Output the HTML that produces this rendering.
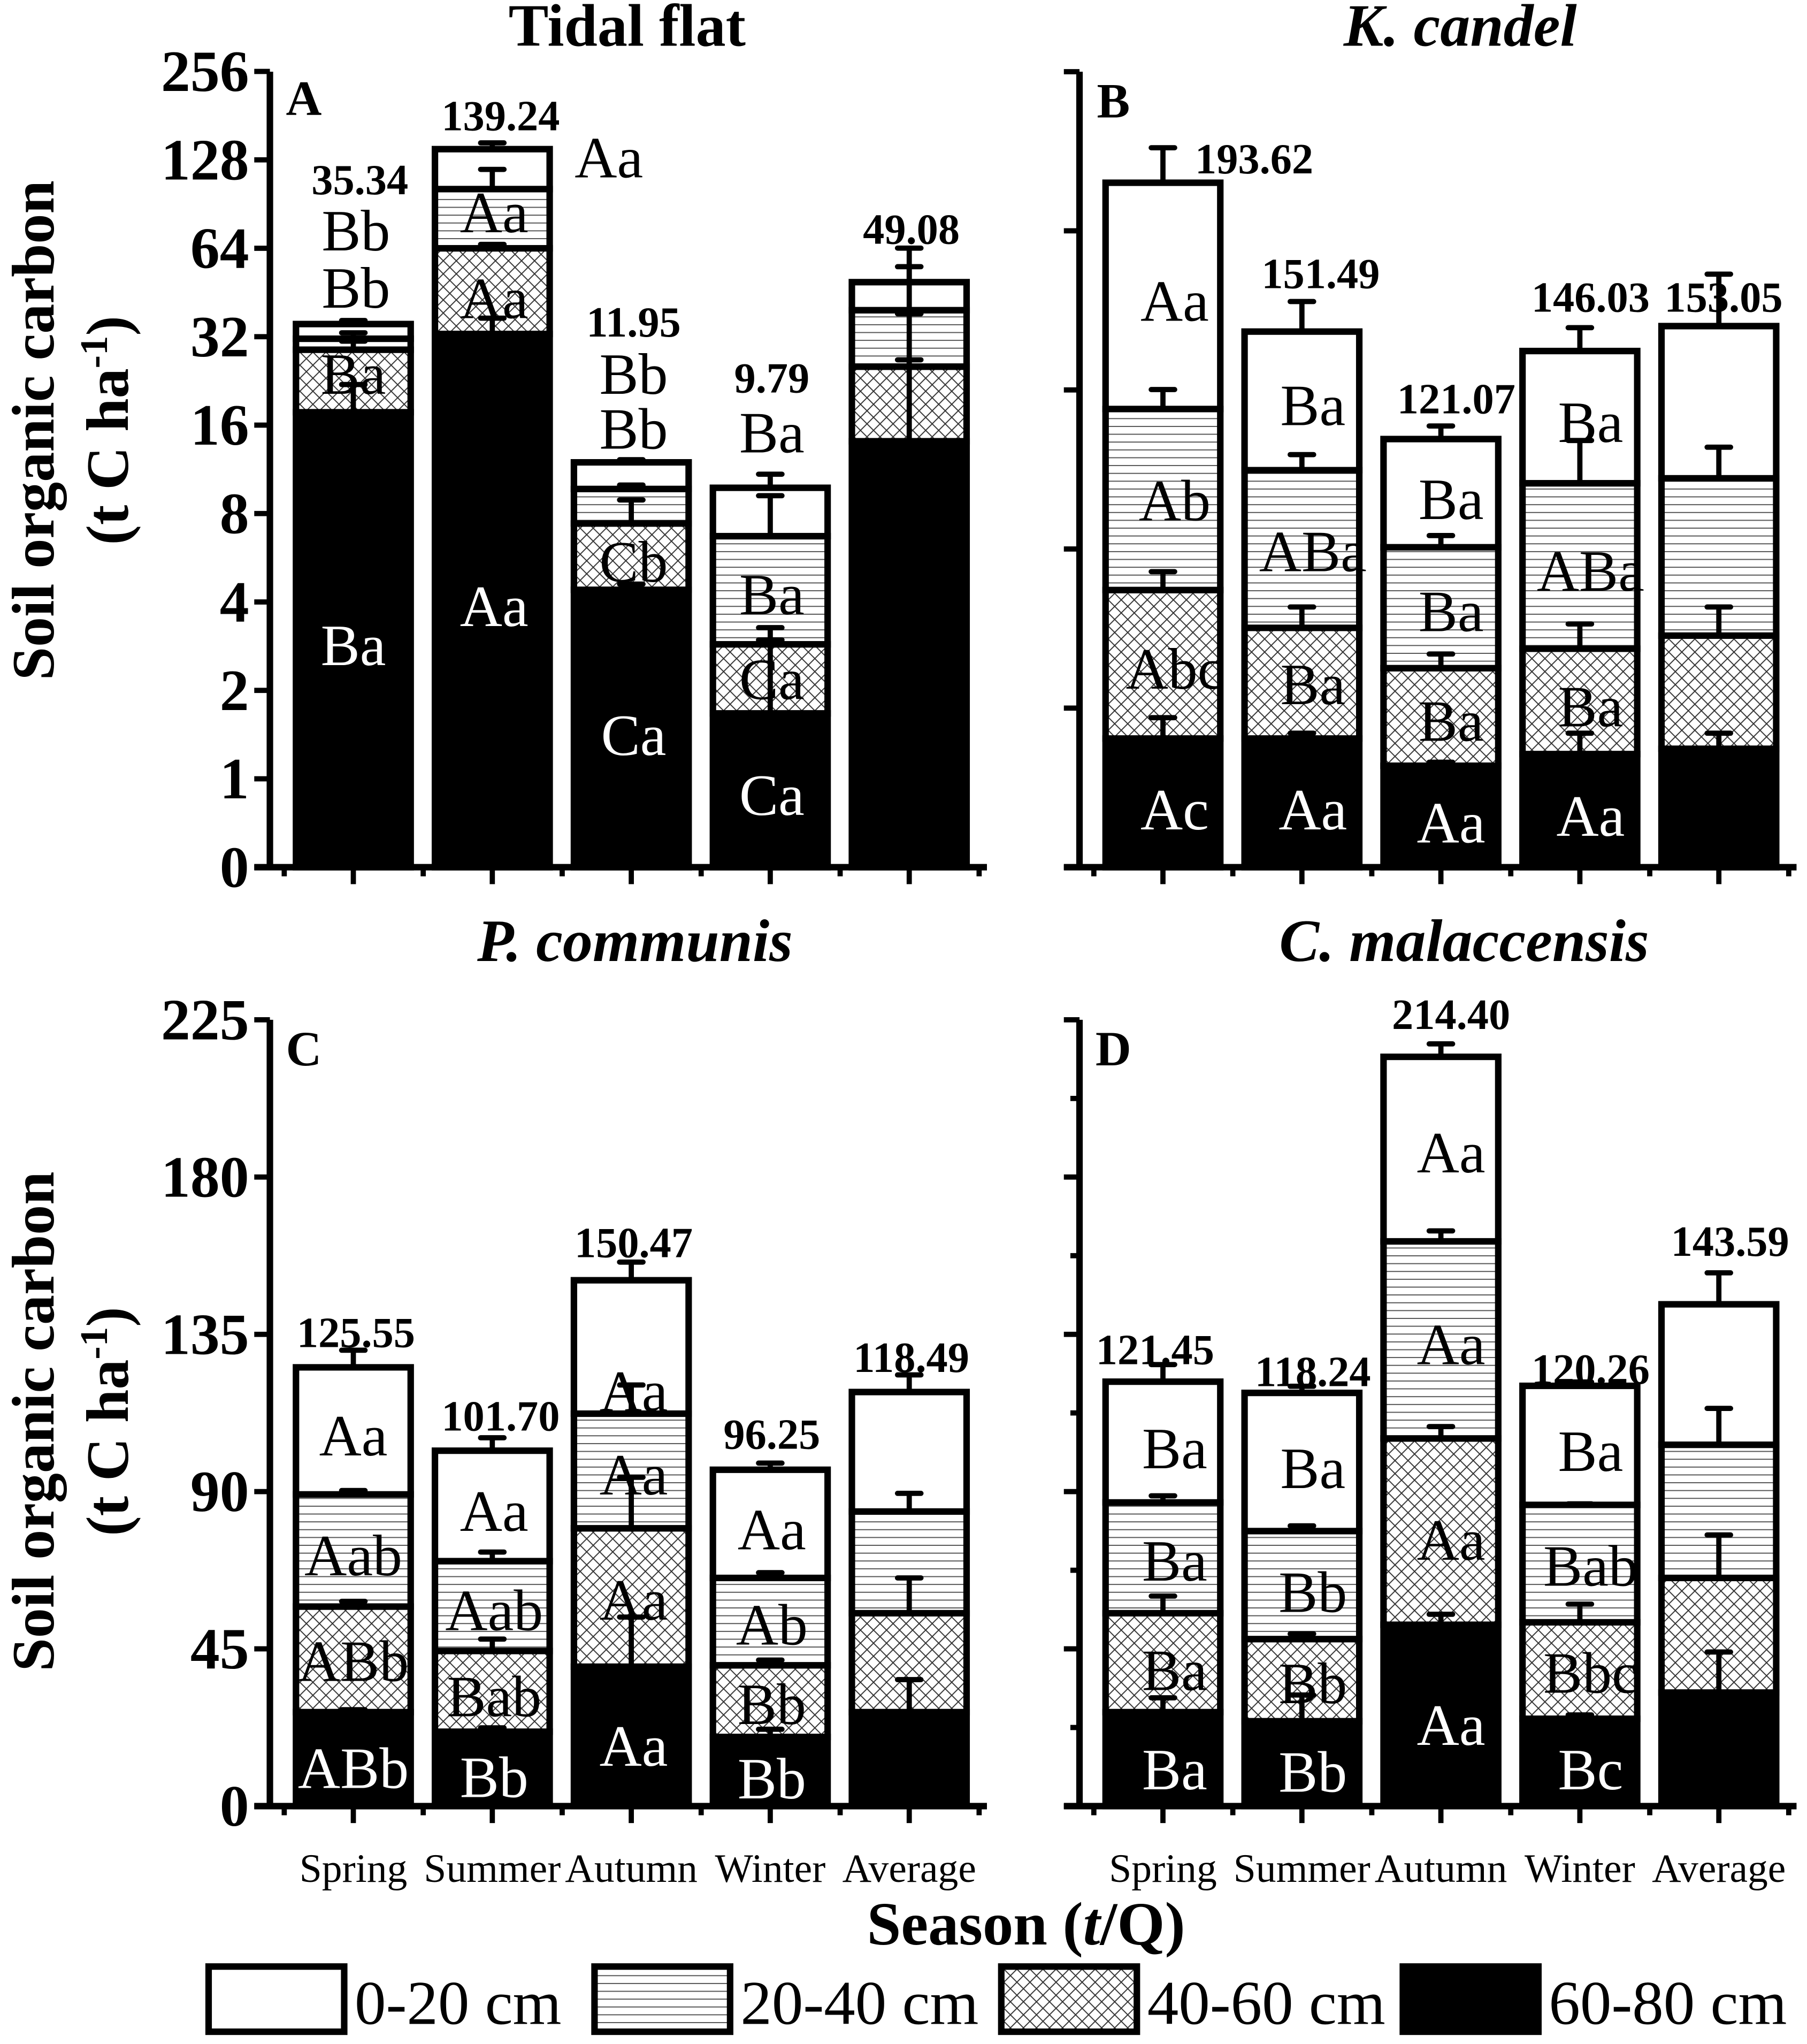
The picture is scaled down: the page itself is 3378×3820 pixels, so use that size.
<!DOCTYPE html>
<html><head><meta charset="utf-8"><style>
html,body{margin:0;padding:0;background:#fff;}
svg{display:block;font-family:"Liberation Serif",serif;}
</style></head><body>
<svg id="chart" xmlns="http://www.w3.org/2000/svg" width="3378" height="3820" viewBox="0 0 1386 1567.4">
<defs>
<pattern id="hlines" patternUnits="userSpaceOnUse" width="8" height="6"><rect width="8" height="6" fill="#fff"/><line x1="0" y1="3" x2="8" y2="3" stroke="#555" stroke-width="0.8"/></pattern>
<pattern id="cross" patternUnits="userSpaceOnUse" width="10" height="10"><rect width="10" height="10" fill="#fff"/><path d="M0,0L10,10M10,0L0,10" stroke="#333" stroke-width="0.8"/></pattern>
</defs>
<g id="root"></g>
</svg>
<script>
const categories = ["Spring","Summer","Autumn","Winter","Average"];
// segment values (t C ha-1), order: 60-80, 40-60, 20-40, 0-20
const aSeg60 = [17.7, 32.7, 4.4, 1.67, 14.1];
const aSeg40 = [11.2, 31.3, 3.0, 1.2, 11.2];
const aSeg20 = [2.6, 37.8, 2.3, 3.83, 14.1];
const aSeg0  = [3.84, 37.44, 2.25, 3.09, 9.68];
const aErr60 = [4.3, 4.3, 0.2, 1.6, 12.6];
const aErr40 = [2.0, 2.0, 1.5, 0.1, 13];
const aErr20 = [1.5, 17, 0.3, 2.5, 16];
const aErr0  = [1.0, 7, 0.25, 1.1, 15];
const aTotals = ["35.34","139.24","11.95","9.79","49.08"];

const bSeg60 = [36.4, 36.4, 28.7, 32, 33.5];
const bSeg40 = [42.0, 31.3, 27.6, 29.8, 32];
const bSeg20 = [51.2, 44.6, 34.2, 46.8, 44.5];
const bSeg0  = [64.0, 39.2, 30.6, 37.4, 43.05];
const bErr60 = [5.9, 1.5, 1, 5.9, 4.4];
const bErr40 = [5.2, 5.9, 4, 7, 8.1];
const bErr20 = [5.5, 4.4, 3.3, 12.1, 8.8];
const bErr0  = [9.9, 8.5, 3.7, 6.6, 14.7];
const bTotals = ["193.62","151.49","121.07","146.03","153.05"];

const cSeg60 = [26.9, 21.3, 39.9, 19.8, 26.9];
const cSeg40 = [30.2, 23.1, 39.6, 20.5, 28.3];
const cSeg20 = [32.1, 25.7, 32.8, 25.0, 29.1];
const cSeg0  = [36.35, 31.6, 38.17, 30.95, 34.19];
const cErr60 = [0.7, 1.1, 14.2, 2.2, 9.3];
const cErr40 = [1.5, 3.4, 14.6, 1.5, 10.1];
const cErr20 = [1.1, 2.6, 8.2, 1.5, 5.2];
const cErr0  = [4.9, 3.7, 5.2, 1.9, 4.9];
const cTotals = ["125.55","101.70","150.47","96.25","118.49"];

const dSeg60 = [26.9, 24.3, 51.9, 25, 32.5];
const dSeg40 = [28.3, 23.5, 53.3, 27.6, 32.8];
const dSeg20 = [31.7, 30.9, 56.4, 33.6, 38.1];
const dSeg0  = [34.55, 39.54, 52.8, 34.06, 40.19];
const dErr60 = [4.1, 7.5, 3, 1.1, 11.6];
const dErr40 = [4.9, 1.5, 3.4, 5.2, 12.3];
const dErr20 = [1.9, 1.5, 3, 0.3, 10.4];
const dErr0  = [4.9, 1.9, 3.7, 1.1, 9];
const dTotals = ["121.45","118.24","214.40","120.26","143.59"];

const logTicks = ["0","1","2","4","8","16","32","64","128","256"];
const linTicks = [0,45,90,135,180,225];

const legendLabels = ["0-20 cm","20-40 cm","40-60 cm","60-80 cm"];

const NS="http://www.w3.org/2000/svg";
const root=document.getElementById('root');
function mk(tag,attrs,parent){const e=document.createElementNS(NS,tag);for(const k in attrs)e.setAttribute(k,attrs[k]);(parent||root).appendChild(e);return e;}
function txt(s,x,y,size,opts,parent){const e=mk('text',Object.assign({x:x,y:y,'font-size':size,'text-anchor':'middle'},opts||{}),parent);e.textContent=s;return e;}

const fills=["#000","url(#cross)","url(#hlines)","#fff"];
const layerNames=["60-80","40-60","20-40","0-20"];

function panel(cfg){
  const g=mk('g',{});
  
  
  const ax=cfg.axisX, y0=cfg.y0, yTop=cfg.yTop;
  const centers=categories.map((c,i)=>ax+64+i*106.6);
  const bw=88;
  const segs=[cfg.s60,cfg.s40,cfg.s20,cfg.s0];
  const errs=[cfg.e60,cfg.e40,cfg.e20,cfg.e0];
  categories.forEach((cat,i)=>{
    let cum=0;
    const bg=mk('g',{},g);
    
    
    const x=centers[i]-bw/2;
    const tops=[];
    for(let L=0;L<4;L++){
      const lo=cum; cum+=segs[L][i];
      const ylo=cfg.y(lo), yhi=cfg.y(cum);
      tops.push(cum);
      const r=mk('rect',{x:x,y:yhi,width:bw,height:Math.max(0,ylo-yhi),fill:fills[L],stroke:'#000','stroke-width':5},bg);
      
      
    }
    for(let L=0;L<4;L++){
      const yt=cfg.y(tops[L]), ye=cfg.y(tops[L]+errs[L][i]);
      const eb=mk('path',{d:`M${centers[i]},${yt}V${ye}M${centers[i]-9},${ye}H${centers[i]+9}`,stroke:'#000','stroke-width':4,fill:'none','stroke-linecap':'round'},bg);
      
      
    }
  });
  const axp=mk('path',{d:`M${ax},${yTop}V${y0}M${ax-12},${y0}H${ax+550}`,stroke:'#000','stroke-width':5,fill:'none'},g);
  
  
  let td='';
  centers.forEach(c=>{td+=`M${c},${y0}V${y0+13}`;});
  for(let i=0;i<=5;i++){const bx=ax+11+i*106.6;td+=`M${bx},${y0}V${y0+7}`;}
  cfg.ticks.forEach(t=>{td+=`M${ax-12},${t.y}H${ax}`;});
  (cfg.minor||[]).forEach(my=>{td+=`M${ax-7},${my}H${ax}`;});
  const tk=mk('path',{d:td,stroke:'#000','stroke-width':4,fill:'none'},g);
  
  
  if(cfg.showLabels){
    cfg.ticks.forEach(t=>{
      const e=txt(t.label,ax-16,t.y+15,45,{'text-anchor':'end','font-weight':'bold'},g);
      
      
    });
  }
  if(cfg.xLabels){
    categories.forEach((c,i)=>{
      const e=txt(c,centers[i],1443,31,{},g);
      
      
    });
  }
  const pl=txt(cfg.id,ax+26,cfg.letterY,38,{'font-weight':'bold'},g);
  
  
  const ti=txt(cfg.title,cfg.titleX,cfg.titleY,46,{'font-weight':'bold','font-style':cfg.italic?'italic':'normal'},g);
  
  
  cfg.totalPos.forEach((p,i)=>{
    const e=txt(cfg.totals[i],p[0],p[1]+11,33,{'font-weight':'bold'},g);
    
    
  });
  cfg.labels.forEach(l=>{
    const e=txt(l[0],l[1],l[2]+16,45,{fill:l[3]?'#fff':'#000'},g);
    
    
  });
}

const yA=v=>{if(v<=0.5)return 665;return 665-(Math.log2(v)+1)*67.8;};
panel({id:'A',axisX:207,y0:665,yTop:55,y:yA,
  ticks:logTicks.map((l,i)=>({label:l,y:665-i*67.8})),showLabels:true,
  s60:aSeg60,s40:aSeg40,s20:aSeg20,s0:aSeg0,e60:aErr60,e40:aErr40,e20:aErr20,e0:aErr0,
  totals:aTotals,totalPos:[[276,138],[384,89],[486,247],[592,290],[699,176]],
  title:'Tidal flat',titleX:481,titleY:35,letterY:88,
  labels:[['Bb',273,176],['Bb',273,220],['Ba',271,286],['Ba',271,494,1],
    ['Aa',467,120],['Aa',379,162],['Aa',379,228],['Aa',379,464,1],
    ['Bb',486,286],['Bb',486,328],['Cb',486,430],['Ca',486,563,1],
    ['Ba',592,331],['Ba',592,455],['Ca',592,520],['Ca',592,609,1]]});

const scB=(665-55)/225;
const yB=v=>665-v*scB;
panel({id:'B',axisX:828,y0:665,yTop:55,y:yB,
  ticks:linTicks.map(t=>({label:String(t),y:yB(t)})),showLabels:false,
  s60:bSeg60,s40:bSeg40,s20:bSeg20,s0:bSeg0,e60:bErr60,e40:bErr40,e20:bErr20,e0:bErr0,
  totals:bTotals,totalPos:[[962,122],[1013,210],[1117,306],[1220,228],[1322,228]],
  title:'K. candel',titleX:1120,titleY:35,italic:true,letterY:90,
  labels:[['Aa',901,230],['Ab',901,383],['Abc',901,512],['Ac',901,620,1],
    ['Ba',1007,310],['ABa',1007,422],['Ba',1007,524],['Aa',1007,620,1],
    ['Ba',1113,382],['Ba',1113,468],['Ba',1113,552],['Aa',1113,630,1],
    ['Ba',1220,323],['ABa',1220,437],['Ba',1220,541],['Aa',1220,625,1]]});

const scC=(1385-782)/225;
const yC=v=>1385-v*scC;
panel({id:'C',axisX:207,y0:1385,yTop:782,y:yC,
  ticks:linTicks.map(t=>({label:String(t),y:yC(t)})),showLabels:true,xLabels:true,
  s60:cSeg60,s40:cSeg40,s20:cSeg20,s0:cSeg0,e60:cErr60,e40:cErr40,e20:cErr20,e0:cErr0,
  totals:cTotals,totalPos:[[273,1022],[384,1086],[486,953],[592,1100],[699,1041]],
  title:'P. communis',titleX:487,titleY:737,italic:true,letterY:817,
  labels:[['Aa',271,1100],['Aab',271,1192],['ABb',271,1273],['ABb',271,1355,1],
    ['Aa',379,1158],['Aab',379,1234],['Bab',379,1300],['Bb',379,1362,1],
    ['Aa',486,1066],['Aa',486,1130],['Aa',486,1226],['Aa',486,1338,1],
    ['Aa',592,1172],['Ab',592,1245],['Bb',592,1306],['Bb',592,1363,1]]});

panel({id:'D',axisX:828,y0:1385,yTop:782,y:yC,
  ticks:linTicks.map(t=>({label:String(t),y:yC(t)})),showLabels:false,xLabels:true,
  minor:[yC(22.5),yC(67.5),yC(112.5),yC(157.5),yC(202.5)],
  s60:dSeg60,s40:dSeg40,s20:dSeg20,s0:dSeg0,e60:dErr60,e40:dErr40,e20:dErr20,e0:dErr0,
  totals:dTotals,totalPos:[[886,1035],[1007,1052],[1113,778],[1220,1050],[1327,952]],
  title:'C. malaccensis',titleX:1123,titleY:737,italic:true,letterY:817,
  labels:[['Ba',901,1110],['Ba',901,1196],['Ba',901,1280],['Ba',901,1356,1],
    ['Ba',1007,1125],['Bb',1007,1220],['Bb',1007,1290],['Bb',1007,1358,1],
    ['Aa',1113,883],['Aa',1113,1030],['Aa',1113,1180],['Aa',1113,1322,1],
    ['Ba',1220,1112],['Bab',1220,1200],['Bbc',1220,1282],['Bc',1220,1356,1]]});

[[330,'a'],[1090,'c']].forEach(p=>{
  const g=mk('g',{transform:`translate(0,${p[0]}) rotate(-90)`});
  
  
  txt('Soil organic carbon',0,41,46,{'font-weight':'bold'},g);
  const t=mk('text',{x:0,y:98,'font-size':46,'font-weight':'bold','text-anchor':'middle'},g);
  t.innerHTML='(t C ha<tspan dy="-16" font-size="30">-1</tspan><tspan dy="16">)</tspan>';
});
const xt=mk('text',{x:787,y:1491,'font-size':47,'font-weight':'bold','text-anchor':'middle'});


xt.innerHTML='Season (<tspan font-style="italic">t</tspan>/Q)';
const legFill=["#fff","url(#hlines)","url(#cross)","#000"];
const legBox=[160,456,768,1076];
legendLabels.forEach((l,i)=>{
  const g=mk('g',{});
  
  
  mk('rect',{x:legBox[i],y:1508,width:104,height:50,fill:legFill[i],stroke:'#000','stroke-width':5},g);
  txt(l,legBox[i]+112,1552,48,{'text-anchor':'start'},g);
});
</script>
</body></html>
